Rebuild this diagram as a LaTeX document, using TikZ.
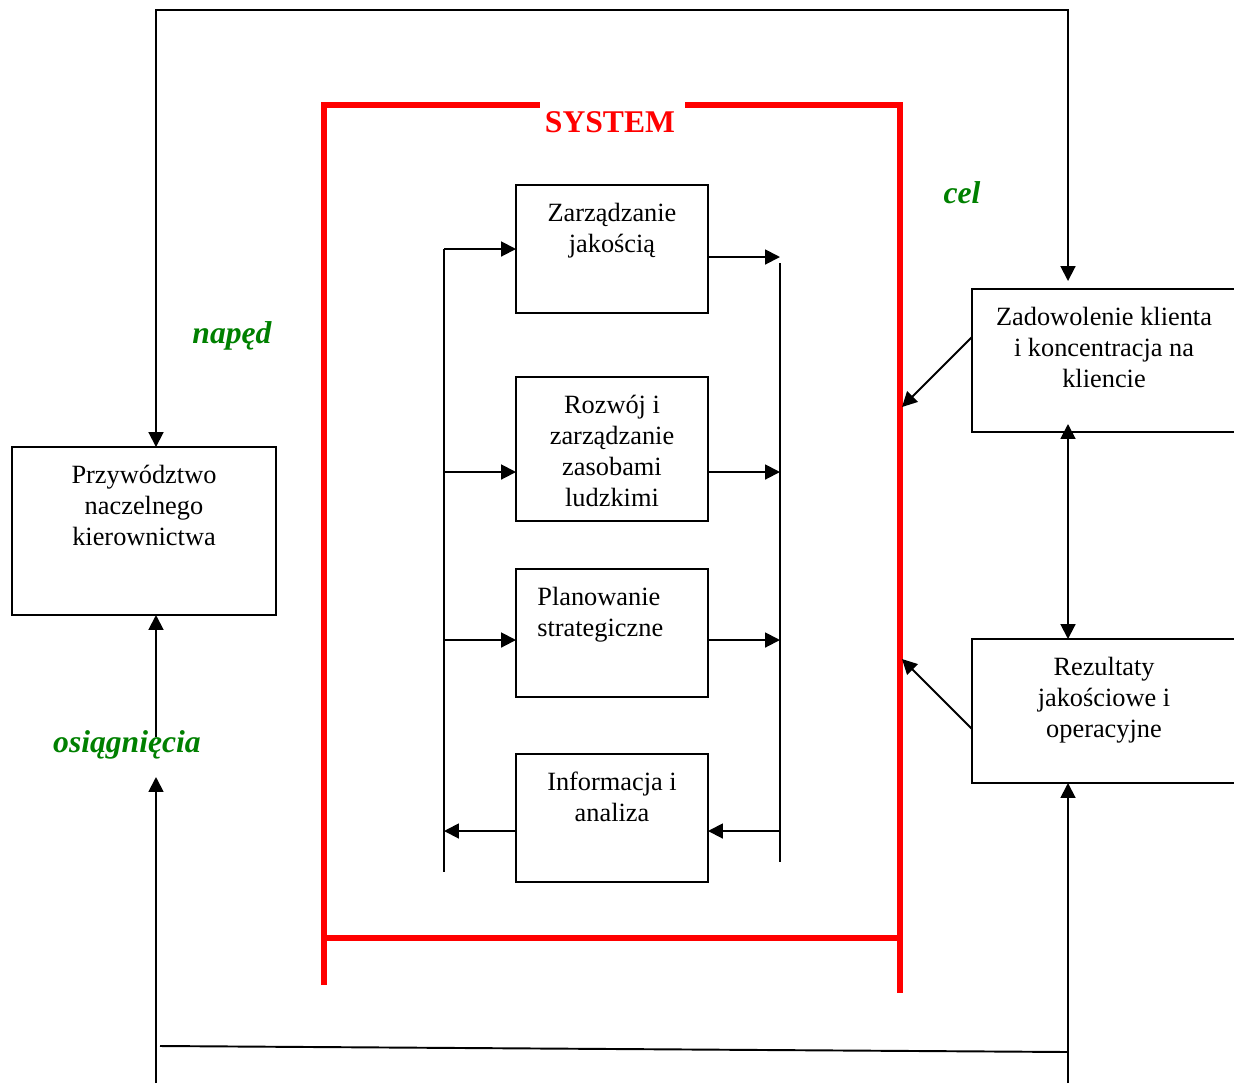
\documentclass[tikz,border=0pt]{standalone}
\usepackage{fontspec}
\setmainfont{Liberation Serif}
\usetikzlibrary{arrows.meta,calc}
\definecolor{grn}{RGB}{0,128,0}
\begin{document}
\begin{tikzpicture}[x=0.02cm,y=-0.02cm,
  >={Triangle[length=8.5pt,width=8.5pt]},
  ln/.style={line width=1.1pt},
  arr/.style={ln,->},
  redframe/.style={line width=2.9pt,draw=red},
  box/.style={draw,line width=1.1pt,inner sep=0pt,outer sep=0pt},
  txt/.style={font=\fontsize{15}{17.6}\selectfont,align=center,inner sep=0pt,anchor=north},
  lab/.style={font=\fontsize{18}{21}\selectfont\bfseries\itshape,text=grn,inner sep=0pt}
]
\useasboundingbox (0,0) rectangle (1234,1083);

% boxes
\node[box,minimum width=5.28cm,minimum height=3.36cm] (P) at (144,531) {};
\node[box,minimum width=5.28cm,minimum height=2.86cm] (Z) at (1104,360.5) {};
\node[box,minimum width=5.28cm,minimum height=2.88cm] (R) at (1104,711) {};
\node[box,minimum width=3.84cm,minimum height=2.56cm] (B1) at (612,249) {};
\node[box,minimum width=3.84cm,minimum height=2.88cm] (B2) at (612,449) {};
\node[box,minimum width=3.84cm,minimum height=2.56cm] (B3) at (612,633) {};
\node[box,minimum width=3.84cm,minimum height=2.56cm] (B4) at (612,818) {};

% texts
\node[txt] (tP) at ($(P.north)+(0,14.6)$) {\strut Przywództwo\\naczelnego\\kierownictwa};
\node[txt] (tZ) at ($(Z.north)+(0,14.6)$) {\strut Zadowolenie klienta\\i koncentracja na\\kliencie};
\node[txt] (tR) at ($(R.north)+(0,14.6)$) {\strut Rezultaty\\jakościowe i\\operacyjne};
\node[txt] (t1) at ($(B1.north)+(0,14.6)$) {\strut Zarządzanie\\jakością};
\node[txt] (t2) at ($(B2.north)+(0,14.6)$) {\strut Rozwój i\\zarządzanie\\zasobami\\ludzkimi};
\node[txt,anchor=north west,align=left] (t3) at (537,583.6) {\strut Planowanie\\strategiczne};
\node[txt] (t4) at ($(B4.north)+(0,14.6)$) {\strut Informacja i\\analiza};

% red system frame
\coordinate (F1) at (324,985);
\coordinate (F2) at (324,105);
\coordinate (F3) at (540,105);
\coordinate (F4) at (685,105);
\coordinate (F5) at (900,105);
\coordinate (F6) at (900,993);
\coordinate (F7) at (324,938);
\coordinate (F8) at (900,938);
\draw[redframe] (F1) -- (F2) -- (F3);
\draw[redframe] (F4) -- (F5) -- (F6);
\draw[redframe] (F7) -- (F8);
\node[font=\fontsize{18}{21}\selectfont\bfseries,text=red,inner sep=0pt] (sys) at (610,122) {SYSTEM};

% inner left bus
\coordinate (La) at (444,249);
\coordinate (Lb) at (444,472);
\coordinate (Lc) at (444,640);
\coordinate (Ld) at (444,831);
\coordinate (Le) at (444,872);
\draw[ln] (La) -- (Le);
\draw[arr] (La) -- (La -| B1.west);
\draw[arr] (Lb) -- (Lb -| B2.west);
\draw[arr] (Lc) -- (Lc -| B3.west);
\draw[arr] (Ld -| B4.west) -- (Ld);

% inner right bus
\coordinate (Ra) at (780,257);
\coordinate (Rt) at (780,263);
\coordinate (Rb) at (780,472);
\coordinate (Rc) at (780,640);
\coordinate (Rd) at (780,831);
\coordinate (Re) at (780,862);
\draw[ln] (Rt) -- (Re);
\draw[arr] (Ra -| B1.east) -- (Ra);
\draw[arr] (Rb -| B2.east) -- (Rb);
\draw[arr] (Rc -| B3.east) -- (Rc);
\draw[arr] (Rd) -- (Rd -| B4.east);

% top loop
\coordinate (TL) at (156,10);
\coordinate (TR) at (1068,10);
\draw[ln,<->,shorten >=0.16cm] (P.north -| TL) -- (TL) -- (TR) -- (Z.north -| TR);

% right side
\draw[ln,<->] ($(Z.south -| TR)+(0,-8)$) -- (R.north -| TR);
\coordinate (zE) at (902,407);
\coordinate (rE) at (902,659);
\draw[arr] ($(Z.west)+(0,-23.5)$) -- (zE);
\draw[arr] ($(R.west)+(0,18)$) -- (rE);

% bottom feedback
\coordinate (O1) at (156,737);
\coordinate (O2) at (156,777);
\coordinate (BL) at (156,1083);
\coordinate (BR) at (1068,1083);
\coordinate (S1) at (160,1046);
\coordinate (S2) at (1068,1052);
\draw[arr] (O1) -- (P.south -| O1);
\draw[arr] (BL) -- (O2);
\draw[arr] (BR) -- (R.south -| BR);
\draw[ln] (S1) -- (S2);

% labels
\node[lab] (cel) at (962,193) {cel};
\node[lab] (naped) at (232,336) {napęd};
\node[lab] (osi) at (127,745) {osiągnięcia};
\end{tikzpicture}
\end{document}
